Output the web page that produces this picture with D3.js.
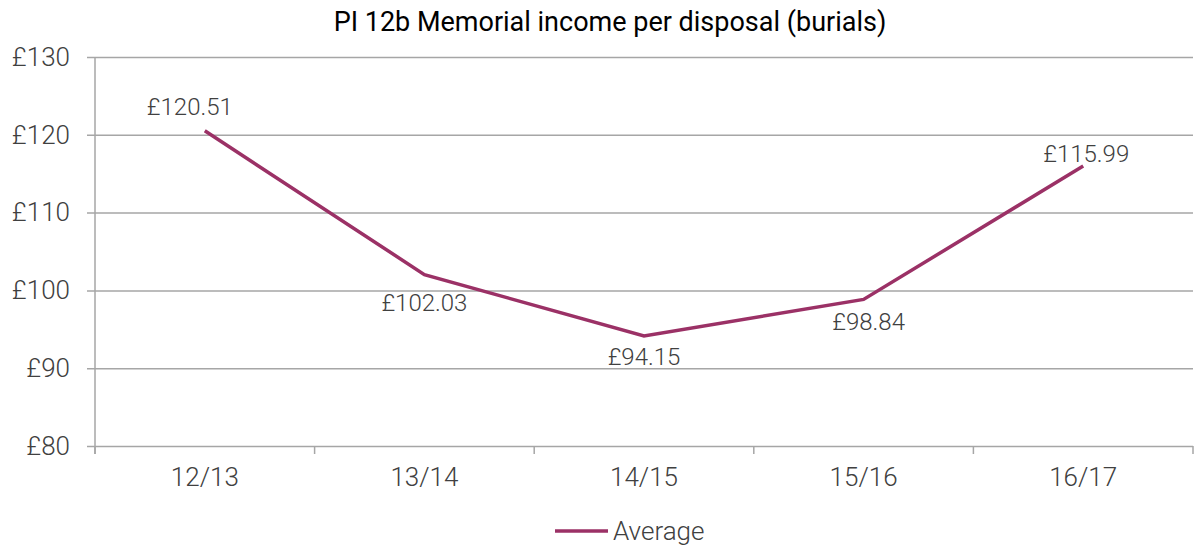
<!DOCTYPE html>
<html>
<head>
<meta charset="utf-8">
<script src="https://cdn.jsdelivr.net/npm/d3@7"></script>
<style>
  body { margin: 0; background: #fff; }
  svg text { font-family: Roboto, "Open Sans", sans-serif; }
  .axis path { display: none; }
  .axis line { stroke: #a6a6a6; stroke-width: 1.5; }
  .axis text { fill: #404040; font-size: 26px; font-weight: 300; }
</style>
</head>
<body>
<div id="chart"></div>
<script>
const years = ['12/13', '13/14', '14/15', '15/16', '16/17'];
const average = [120.51, 102.03, 94.15, 98.84, 115.99];
const yTicks = [80, 90, 100, 110, 120, 130];
// label placement for each point: above or below the line
const labelPos = ['above', 'below', 'below', 'below', 'above'];

function skillChart(anchor, svgWidth = 1201, svgHeight = 546) {
    let margin = {top: 57, right: 8, bottom: 100, left: 95},
        chartWidth = svgWidth - margin.left - margin.right,
        chartHeight = svgHeight - margin.top - margin.bottom;

    let x = d3.scaleBand().domain(years).range([0, chartWidth]),
        y = d3.scaleLinear().domain([80, 130]).range([chartHeight, 0]);

    let root = d3.select(anchor).append('svg')
        .attr('width', svgWidth)
        .attr('height', svgHeight);

    root.append('text')
        .attr('x', 610)
        .attr('y', 31)
        .attr('text-anchor', 'middle')
        .style('font-size', '27px')
        .style('fill', '#000')
        .text('PI 12b Memorial income per disposal (burials)');

    let svg = root.append('g')
        .attr('transform', 'translate(' + margin.left + ',' + margin.top + ')');

    // horizontal gridlines + y labels
    svg.append('g')
        .attr('class', 'y axis')
        .call(d3.axisLeft(y).tickValues(yTicks)
            .tickSizeInner(-chartWidth).tickSizeOuter(0).tickPadding(25)
            .tickFormat(d => '£' + d))
        .call(g => g.selectAll('.tick line').attr('x1', -8));

    // left frame line
    svg.append('line')
        .attr('x1', 0).attr('x2', 0)
        .attr('y1', 0).attr('y2', chartHeight + 8)
        .attr('stroke', '#a6a6a6').attr('stroke-width', 1.5);

    // x axis: ticks at band boundaries, labels at centres
    let xAxis = svg.append('g')
        .attr('class', 'x axis')
        .attr('transform', 'translate(0,' + chartHeight + ')');
    xAxis.call(d3.axisBottom(x).tickSize(0).tickPadding(22));
    xAxis.selectAll('.tick text').attr('dy', '0.71em');
    let bounds = years.map(d => x(d)).concat([chartWidth]);
    xAxis.selectAll('line.bound').data(bounds)
        .enter().append('line')
        .attr('class', 'bound')
        .attr('x1', d => d).attr('x2', d => d)
        .attr('y1', 0).attr('y2', 8);

    let cx = d => x(d) + x.bandwidth() / 2;

    let line = d3.line()
        .x((d, i) => cx(years[i]))
        .y(d => y(d));

    svg.append('path')
        .datum(average)
        .attr('d', line)
        .attr('fill', 'none')
        .attr('stroke', '#9b3166')
        .attr('stroke-width', 3.5);

    // small nudges so labels clear the line like the original
    let labelDx = [-15, 0, 0, 5, 3],
        labelDy = [-16, 36, 29, 31, -4];

    svg.selectAll('text.value').data(average)
        .enter().append('text')
        .attr('class', 'value')
        .attr('x', (d, i) => cx(years[i]) + labelDx[i])
        .attr('y', (d, i) => y(d) + labelDy[i])
        .attr('text-anchor', 'middle')
        .style('font-size', '24px')
        .style('font-weight', 300)
        .style('fill', '#404040')
        .text(d => '£' + d.toFixed(2));

    // legend
    let legend = root.append('g').attr('transform', 'translate(555,531)');
    legend.append('line')
        .attr('x1', 0).attr('x2', 53)
        .attr('stroke', '#9b3166').attr('stroke-width', 3.5);
    legend.append('text')
        .attr('x', 58).attr('y', 9)
        .style('font-size', '26px')
        .style('font-weight', 300)
        .style('fill', '#404040')
        .text('Average');
}

skillChart('#chart');
</script>
</body>
</html>
